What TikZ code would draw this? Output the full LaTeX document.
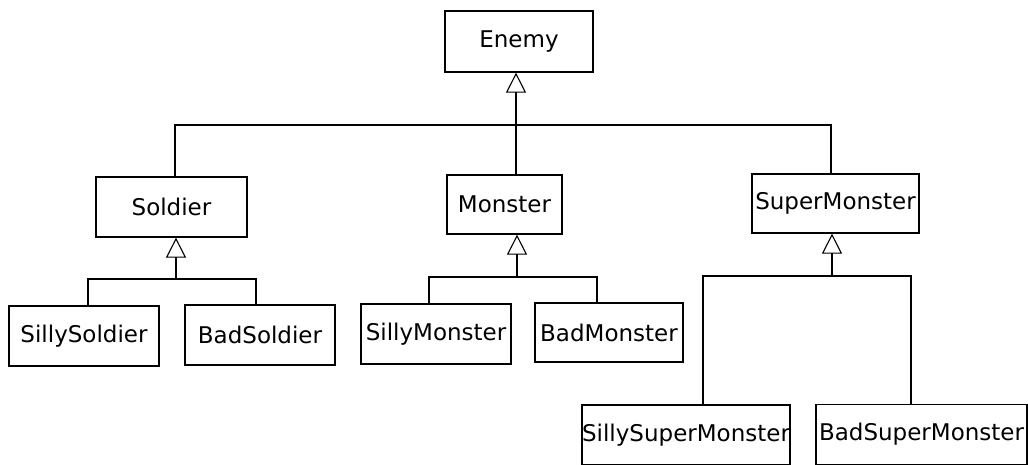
\documentclass[tikz,border=0pt]{standalone}
\usepackage{fontspec}
\setmainfont{DejaVu Sans}
\usetikzlibrary{arrows.meta,calc}
\begin{document}
\begin{tikzpicture}[x=1pt,y=-1pt,
  cls/.style={draw, line width=1.2pt, inner sep=0pt, align=center,
    font=\fontsize{23}{27}\selectfont},
  link/.style={line width=1.1pt},
  inh/.style={line width=1.1pt, -{Triangle[open, length=20pt, width=20pt, line width=1.1pt]}}]
\useasboundingbox (0,0) rectangle (1028,464);
\fill[white] (0,0) rectangle (1028,464);
% classes
\node[cls, minimum width=148pt, minimum height=61pt] (enemy) at (519,41.5) {Enemy};
\node[cls, minimum width=151pt, minimum height=60pt] (soldier) at (171.5,207) {Soldier};
\node[cls, minimum width=115pt, minimum height=59pt] (monster) at (504.5,204.5) {Monster};
\node[cls, minimum width=167pt, minimum height=59pt] (super) at (835.5,203.5) {SuperMonster};
\node[cls, minimum width=150pt, minimum height=60pt] (sillysoldier) at (84,336) {SillySoldier};
\node[cls, minimum width=150pt, minimum height=60pt] (badsoldier) at (260,335) {BadSoldier};
\node[cls, minimum width=150pt, minimum height=60pt] (sillymonster) at (436,334) {SillyMonster};
\node[cls, minimum width=148pt, minimum height=59pt] (badmonster) at (609,332.5) {BadMonster};
\node[cls, minimum width=208pt, minimum height=60pt] (sillysuper) at (686,435) {SillySuperMonster};
\node[cls, minimum width=211pt, minimum height=60pt] (badsuper) at (921.5,434.5) {BadSuperMonster};
% junctions
\coordinate (j0) at (516,125);
\coordinate (j1) at (176,279);
\coordinate (j2) at (517,277);
\coordinate (j3) at (832,276);
% Enemy hierarchy
\draw[inh] (j0 |- monster.north) -- (j0 |- enemy.south);
\draw[link] ($(soldier.north)+(3.5,0)$) |- (j0) -| ($(super.north)+(-4.5,0)$);
% Soldier hierarchy
\draw[inh] (j1) -- (j1 |- soldier.south);
\draw[link] ($(sillysoldier.north)+(4,0)$) |- (j1) -| ($(badsoldier.north)+(-4,0)$);
% Monster hierarchy
\draw[inh] (j2) -- (j2 |- monster.south);
\draw[link] ($(sillymonster.north)+(-7,0)$) |- (j2) -| ($(badmonster.north)+(-12,0)$);
% SuperMonster hierarchy
\draw[inh] (j3) -- (j3 |- super.south);
\draw[link] ($(sillysuper.north)+(17,0)$) |- (j3) -| ($(badsuper.north)+(-10.5,0)$);
\end{tikzpicture}
\end{document}
